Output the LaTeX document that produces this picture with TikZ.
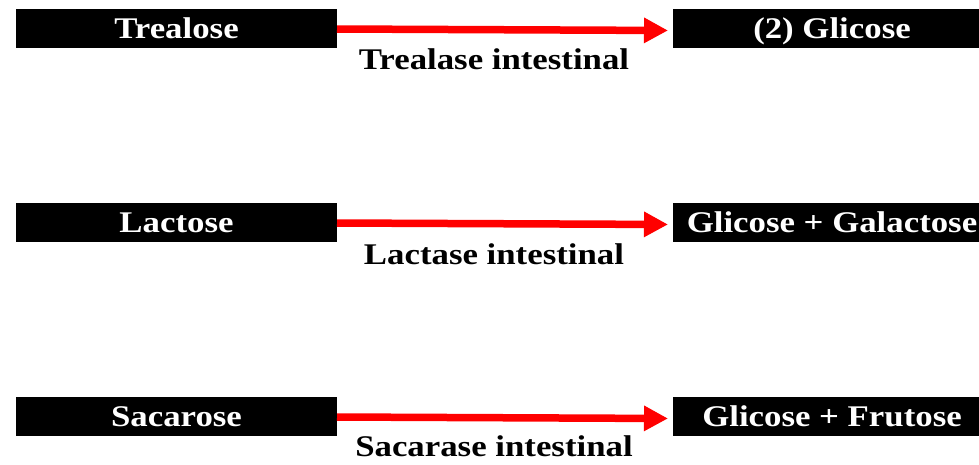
\documentclass[tikz,border=0pt]{standalone}
\usepackage{fontspec}
\setmainfont[FakeStretch=1.16]{Liberation Serif}
\usetikzlibrary{arrows.meta}
\begin{document}
\begin{tikzpicture}[x=1pt,y=-1pt,
  box/.style={fill=black,text=white,font=\bfseries\fontsize{30}{36}\selectfont,minimum height=39pt,text height=21pt,text depth=2pt,inner sep=0pt,outer sep=0pt},
  lbox/.style={box,minimum width=321pt},
  rbox/.style={box,minimum width=318pt},
  lab/.style={font=\bfseries\fontsize{30}{36}\selectfont,anchor=base,inner sep=0pt},
  arr/.style={draw=red,line width=7.5pt,-{Triangle[length=24pt,width=24pt]},shorten >=5pt}]
\useasboundingbox (0,0) rectangle (979,464);
% row 1
\node[lbox] (l1) at (176.5,28.5) {Trealose};
\node[rbox] (r1) at (832,28.5) {(2) Glicose};
\draw[arr] ([yshift=-0.5pt]l1.east) -- ([yshift=-2pt]r1.west);
\node[lab] (e1) at (494,69) {Trealase intestinal};
% row 2
\node[lbox] (l2) at (176.5,222.5) {Lactose};
\node[rbox] (r2) at (832,222.5) {Glicose + Galactose};
\draw[arr] ([yshift=-0.5pt]l2.east) -- ([yshift=-2pt]r2.west);
\node[lab] (e2) at (494,264) {Lactase intestinal};
% row 3
\node[lbox] (l3) at (176.5,416.5) {Sacarose};
\node[rbox] (r3) at (832,416.5) {Glicose + Frutose};
\draw[arr] ([yshift=-0.5pt]l3.east) -- ([yshift=-2pt]r3.west);
\node[lab] (e3) at (494,456) {Sacarase intestinal};
\end{tikzpicture}
\end{document}
